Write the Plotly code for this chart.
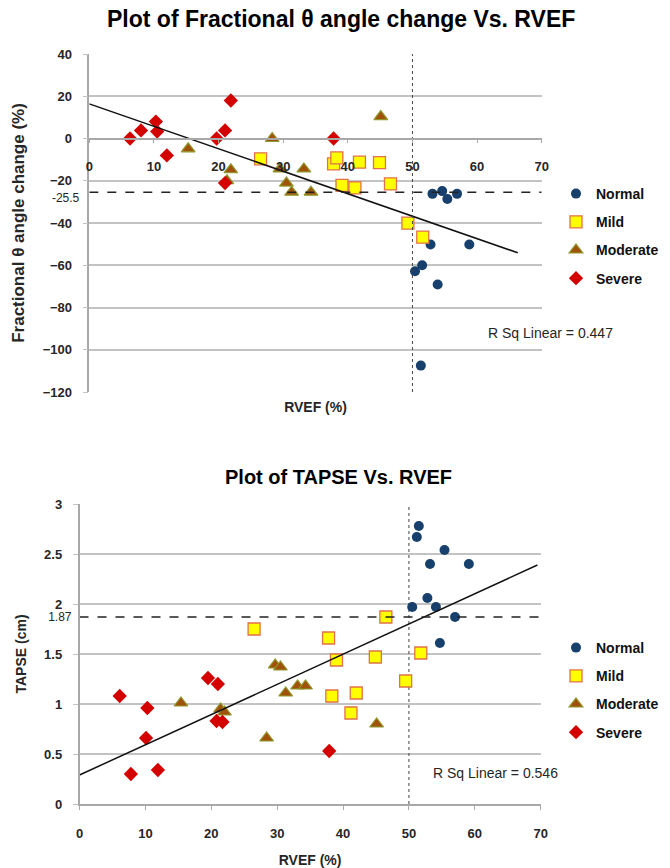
import plotly.graph_objects as go

# ---------------- Data: top chart (Fractional theta angle change vs RVEF) ----------------
normal_rvef_top = [53.1, 54.6, 55.4, 56.9, 52.8, 58.8, 51.5, 50.4, 53.9, 51.3]
normal_theta = [-26.2, -24.9, -28.6, -26.2, -50.2, -50.2, -60.0, -62.8, -69.1, -107.5]
mild_rvef_top = [26.5, 37.8, 38.3, 39.1, 41.1, 41.8, 44.9, 46.6, 49.3, 51.6]
mild_theta = [-9.6, -12.0, -9.2, -22.2, -23.4, -11.2, -11.4, -21.5, -40.1, -46.7]
moderate_rvef_top = [15.3, 21.9, 21.3, 28.3, 29.5, 30.5, 31.3, 33.2, 34.3, 45.1]
moderate_theta = [-4.9, -14.8, -20.0, 0.0, -14.4, -21.1, -25.4, -14.4, -25.4, 10.4]
severe_rvef_top = [6.3, 8.0, 10.3, 10.5, 12.0, 19.7, 21.0, 21.9, 21.0, 37.8]
severe_theta = [0.0, 3.8, 8.0, 3.3, -8.0, 0.0, 3.8, 18.0, -21.1, 0.0]
trend_top_x = [0, 66.3]
trend_top_y = [16.4, -54.1]
theta_cutoff = -25.5
r2_top = 0.447

# ---------------- Data: bottom chart (TAPSE vs RVEF) ----------------
normal_rvef_bot = [51.5, 51.2, 55.4, 53.2, 59.1, 52.8, 54.1, 50.5, 57.0, 54.7]
normal_tapse = [2.78, 2.67, 2.54, 2.40, 2.40, 2.06, 1.97, 1.97, 1.87, 1.61]
mild_rvef_bot = [26.5, 37.8, 38.3, 39.0, 41.2, 42.0, 44.9, 46.5, 49.5, 51.8]
mild_tapse = [1.75, 1.66, 1.08, 1.44, 0.91, 1.11, 1.47, 1.87, 1.23, 1.51]
moderate_rvef_bot = [15.4, 21.4, 22.0, 28.4, 29.7, 30.5, 31.3, 33.1, 34.3, 45.1]
moderate_tapse = [1.01, 0.95, 0.92, 0.66, 1.39, 1.37, 1.11, 1.18, 1.18, 0.80]
severe_rvef_bot = [6.1, 7.8, 10.3, 10.1, 11.9, 19.5, 21.0, 20.8, 21.7, 37.9]
severe_tapse = [1.08, 0.30, 0.96, 0.66, 0.34, 1.26, 1.20, 0.83, 0.82, 0.53]
trend_bot_x = [0, 69.5]
trend_bot_y = [0.29, 2.39]
tapse_cutoff = 1.87
r2_bot = 0.546

rvef_cutoff = 50
x_ticks = [0, 10, 20, 30, 40, 50, 60, 70]
theta_ticks = [40, 20, 0, -20, -40, -60, -80, -100, -120]
tapse_ticks = [3, 2.5, 2, 1.5, 1, 0.5, 0]
groups = ["Normal", "Mild", "Moderate", "Severe"]

W, H = 670, 868
FONT = "Liberation Sans, Arial, sans-serif"
GRID = "#c3c3c3"
AXIS = "#a8a8a8"
TXT = "#262626"

def px_x(p):
    return p / W

def px_y(p):
    return 1 - p / H

styles = {
    "Normal": dict(symbol="circle", size=10, color="#17406d", line=dict(width=0)),
    "Mild": dict(symbol="square", size=12, color="#ffff00", line=dict(width=1.3, color="#e2704a")),
    "Moderate": dict(symbol="triangle-up", size=12, color="#a0520a", line=dict(width=1.2, color="#8f9a2e")),
    "Severe": dict(symbol="diamond", size=11, color="#d40000", line=dict(width=0)),
}

fig = go.Figure()

top_sets = [(normal_rvef_top, normal_theta), (mild_rvef_top, mild_theta),
            (moderate_rvef_top, moderate_theta), (severe_rvef_top, severe_theta)]
bot_sets = [(normal_rvef_bot, normal_tapse), (mild_rvef_bot, mild_tapse),
            (moderate_rvef_bot, moderate_tapse), (severe_rvef_bot, severe_tapse)]

# reference lines (top): dashed cutoff on y2 (carries the -25.5 label), dotted x=50 on x2 (the zero-crossing axis)
fig.add_trace(go.Scatter(x=[0, 70], y=[theta_cutoff, theta_cutoff], mode="lines",
                         line=dict(color="#222", width=1.5, dash="dash"), showlegend=False,
                         xaxis="x", yaxis="y2", hoverinfo="skip"))
fig.add_trace(go.Scatter(x=[rvef_cutoff, rvef_cutoff], y=[-120, 40], mode="lines",
                         line=dict(color="#444", width=1, dash="dot"), showlegend=False,
                         xaxis="x2", yaxis="y", hoverinfo="skip"))
# reference lines (bottom)
fig.add_trace(go.Scatter(x=[0, 70], y=[tapse_cutoff, tapse_cutoff], mode="lines",
                         line=dict(color="#222", width=1.5, dash="dash"), showlegend=False,
                         xaxis="x3", yaxis="y4", hoverinfo="skip"))
fig.add_trace(go.Scatter(x=[rvef_cutoff, rvef_cutoff], y=[0, 3], mode="lines",
                         line=dict(color="#444", width=1, dash="dot"), showlegend=False,
                         xaxis="x3", yaxis="y3", hoverinfo="skip"))

for g, (xs, ys) in zip(groups, top_sets):
    fig.add_trace(go.Scatter(x=xs, y=ys, mode="markers", name=g, marker=styles[g],
                             xaxis="x", yaxis="y", legend="legend", legendgroup="t" + g))
for g, (xs, ys) in zip(groups, bot_sets):
    fig.add_trace(go.Scatter(x=xs, y=ys, mode="markers", name=g, marker=styles[g],
                             xaxis="x3", yaxis="y3", legend="legend2", legendgroup="b" + g))

# trend lines
fig.add_trace(go.Scatter(x=trend_top_x, y=trend_top_y, mode="lines", line=dict(color="#111", width=1.5),
                         showlegend=False, xaxis="x", yaxis="y"))
fig.add_trace(go.Scatter(x=trend_bot_x, y=trend_bot_y, mode="lines", line=dict(color="#111", width=1.5),
                         showlegend=False, xaxis="x3", yaxis="y3"))

tickfont = dict(family=FONT, size=13, color=TXT, weight="bold")
small_font = dict(family=FONT, size=12, color=TXT)
title_font = dict(family=FONT, size=14, color=TXT, weight="bold")

# domains
top_x_dom = [px_x(89.3), px_x(541.7)]
top_y_dom = [px_y(392), px_y(54)]
bot_x_dom = [px_x(79.5), px_x(540.7)]
bot_y_dom = [px_y(804), px_y(504)]
zero_pos = top_y_dom[0] + (top_y_dom[1] - top_y_dom[0]) * (0 - (-120)) / 160

center = dict(xref="paper", yref="paper", showarrow=False, xanchor="center", yanchor="middle")

fig.update_layout(
    template="none",
    width=W, height=H, margin=dict(l=0, r=0, t=0, b=0, autoexpand=False),
    paper_bgcolor="white", plot_bgcolor="white",
    showlegend=True,
    font=dict(family=FONT, color=TXT),
    xaxis=dict(domain=top_x_dom, anchor="y", range=[0, 70], showticklabels=False, ticks="",
               showgrid=False, zeroline=False, showline=False, automargin=False,
               title=dict(text="RVEF (%)", font=title_font, standoff=10)),
    xaxis2=dict(overlaying="x", anchor="free", position=zero_pos, range=[0, 70],
                tickvals=x_ticks, tickfont=tickfont,
                ticks="outside", ticklen=4, tickcolor=AXIS, showline=True, linecolor=AXIS, linewidth=1.5,
                showgrid=False, zeroline=False, ticklabelstandoff=12, automargin=False),
    yaxis=dict(domain=top_y_dom, anchor="x", range=[-120, 40],
               tickvals=theta_ticks, tickfont=tickfont,
               ticks="outside", ticklen=5, tickcolor=GRID, showline=True, linecolor=AXIS, linewidth=1.5,
               showgrid=True, gridcolor=GRID, gridwidth=1.5, zeroline=False, ticklabelstandoff=8,
               automargin=False,
               title=dict(text="Fractional θ angle change (%)", font=dict(family=FONT, size=17, color=TXT,
                                                                         weight="bold"), standoff=14)),
    yaxis2=dict(overlaying="y", anchor="free", position=top_x_dom[0], autoshift=False, side="left",
                range=[-120, 40], tickvals=[theta_cutoff], ticktext=[str(theta_cutoff)],
                tickfont=small_font, ticks="", showgrid=False, ticklabelshift=5,
                zeroline=False, showline=False, ticklabelstandoff=10, automargin=False),
    xaxis3=dict(domain=bot_x_dom, anchor="y3", range=[0, 70],
                tickvals=x_ticks, tickfont=tickfont,
                ticks="outside", ticklen=4, tickcolor=AXIS, showline=True, linecolor=AXIS, linewidth=1.5,
                showgrid=False, zeroline=False, ticklabelstandoff=13, automargin=False,
                title=dict(text="RVEF (%)", font=title_font, standoff=15)),
    yaxis3=dict(domain=bot_y_dom, anchor="x3", range=[0, 3],
                tickvals=tapse_ticks, tickfont=tickfont,
                ticks="outside", ticklen=5, tickcolor=GRID, showline=True, linecolor=AXIS, linewidth=1.5,
                showgrid=True, gridcolor=GRID, gridwidth=1.5, zeroline=False, ticklabelstandoff=8,
                automargin=False,
                title=dict(text="TAPSE (cm)", font=title_font, standoff=14)),
    yaxis4=dict(overlaying="y3", anchor="free", position=bot_x_dom[0], autoshift=False, side="left",
                range=[0, 3], tickvals=[tapse_cutoff], ticktext=[str(tapse_cutoff)],
                tickfont=small_font, ticks="", showgrid=False,
                zeroline=False, showline=False, ticklabelstandoff=8, automargin=False),
    legend=dict(x=px_x(556), y=px_y(178), xanchor="left", yanchor="top", traceorder="grouped",
                tracegroupgap=7, font=dict(family=FONT, size=14, color="#111", weight="bold"),
                bgcolor="rgba(0,0,0,0)", itemclick=False),
    legend2=dict(x=px_x(556), y=px_y(632), xanchor="left", yanchor="top", traceorder="grouped",
                 tracegroupgap=7, font=dict(family=FONT, size=14, color="#111", weight="bold"),
                 bgcolor="rgba(0,0,0,0)", itemclick=False),
    annotations=[
        dict(text="<b>Plot of Fractional θ angle change Vs. RVEF</b>", x=px_x(341), y=px_y(19),
             font=dict(family=FONT, size=23, color="#000"), **center),
        dict(text="<b>Plot of TAPSE Vs. RVEF</b>", x=px_x(338), y=px_y(477),
             font=dict(family=FONT, size=20, color="#000"), **center),
        dict(text="R Sq Linear = %.3f" % r2_top, x=px_x(550), y=px_y(333),
             font=dict(family=FONT, size=14, color=TXT), **center),
        dict(text="R Sq Linear = %.3f" % r2_bot, x=px_x(495), y=px_y(773),
             font=dict(family=FONT, size=14, color=TXT), **center),
    ],
)

fig.write_html("out.html")
